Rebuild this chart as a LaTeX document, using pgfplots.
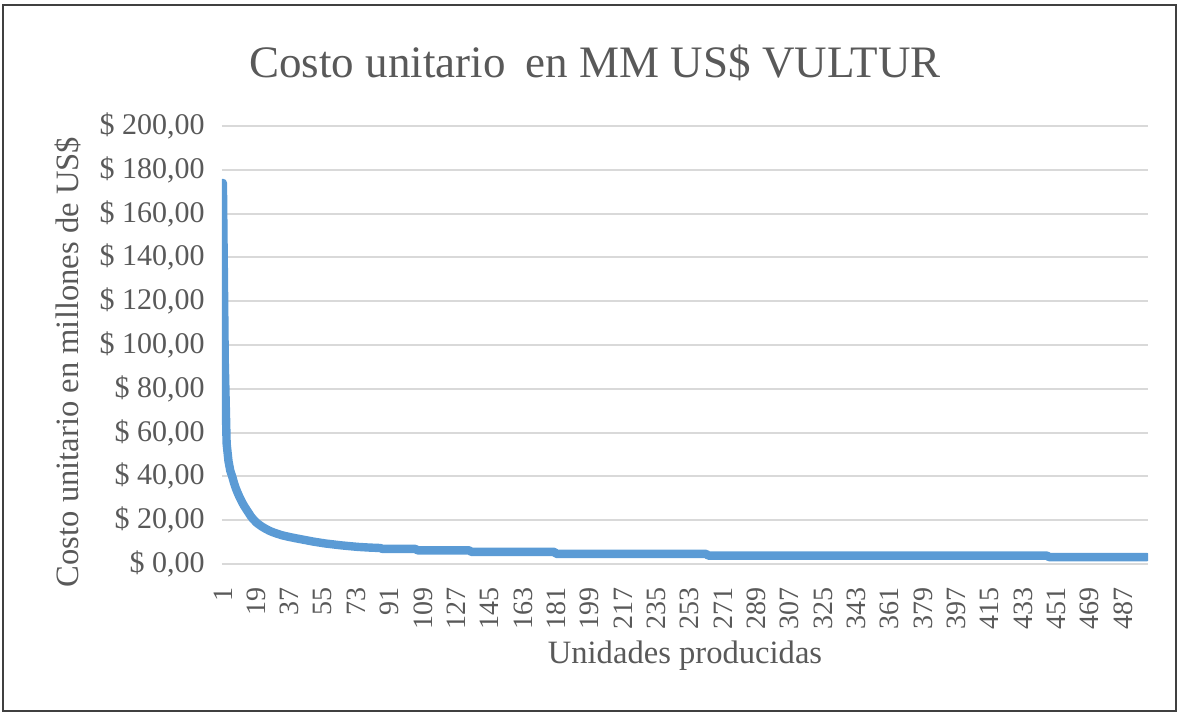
\documentclass[border=0pt]{standalone}
\usepackage{pgfplots}
\pgfplotsset{compat=1.18}
\usepackage{pgfplotstable}
\usepackage{fontspec}
\setmainfont{Liberation Serif}
\definecolor{txtgray}{HTML}{595959}
\definecolor{gridgray}{HTML}{D9D9D9}
\definecolor{xlblue}{HTML}{5B9BD5}
\pgfplotstableread{
x y
1 174
2 92
3 55
4 47
5 42.5
6 40
7 37
8 34.5
9 32.4
10 30.5
11 28.8
12 27.2
13 25.8
14 24.5
15 23.2
16 21.9
17 20.8
18 19.9
19 19.0
20 18.3
22 17.1
24 16.1
26 15.2
28 14.5
30 13.9
33 13.1
36 12.5
40 11.8
45 11.0
50 10.2
56 9.4
60 9.0
65 8.5
70 8.1
74 7.8
80 7.5
86 7.3
87 6.9
105 6.9
106 6.25
134 6.25
135 5.56
180 5.56
181 4.6
262 4.6
263 3.85
446 3.85
447 3.15
500 3.15
}\costdata
\begin{document}
\begin{tikzpicture}
\useasboundingbox (-111pt,-75.5pt) rectangle (478pt,282pt);
\draw[black!75, line width=1pt] (-109.5pt,-73.5pt) rectangle (477pt,279.5pt);
\node[anchor=base, font=\fontsize{22.5}{27}\selectfont, text=txtgray] at (186.5pt,243pt) {Costo unitario\hspace{0.45em}en MM US\$ VULTUR};
\begin{axis}[
  at={(0,0)}, anchor=south west,
  scale only axis, width=463pt, height=219pt,
  xmin=0.5, xmax=500.5, ymin=0, ymax=200,
  axis line style={draw=none},
  major tick length=0pt,
  ymajorgrids, major grid style={gridgray, line width=1pt},
  ytick={0,20,...,200},
  yticklabels={{\$ 0,00},{\$ 20,00},{\$ 40,00},{\$ 60,00},{\$ 80,00},{\$ 100,00},{\$ 120,00},{\$ 140,00},{\$ 160,00},{\$ 180,00},{\$ 200,00}},
  yticklabel style={font=\fontsize{15}{18}\selectfont, text=txtgray, inner sep=0pt, xshift=-8.5pt},
  xtick={1,19,...,487},
  xticklabels={1,19,37,55,73,91,109,127,145,163,181,199,217,235,253,271,289,307,325,343,361,379,397,415,433,451,469,487},
  xticklabel style={font=\fontsize{14}{17}\selectfont, text=txtgray, rotate=90, anchor=east, inner sep=0pt},
  xticklabel shift=11.5pt,
  xlabel={Unidades producidas},
  xlabel style={font=\fontsize{16.3}{19}\selectfont, text=txtgray, at={(axis description cs:0.5,-0.21)}, anchor=center},
  ylabel={Costo unitario en millones de US\$},
  ylabel style={font=\fontsize{16.3}{19}\selectfont, text=txtgray, at={(axis description cs:-0.166,0.461)}, anchor=center, rotate=0},
]
\addplot[xlblue, line width=4.2pt, line cap=round, line join=round] table[x=x,y=y]{\costdata};
\end{axis}
\end{tikzpicture}
\end{document}
